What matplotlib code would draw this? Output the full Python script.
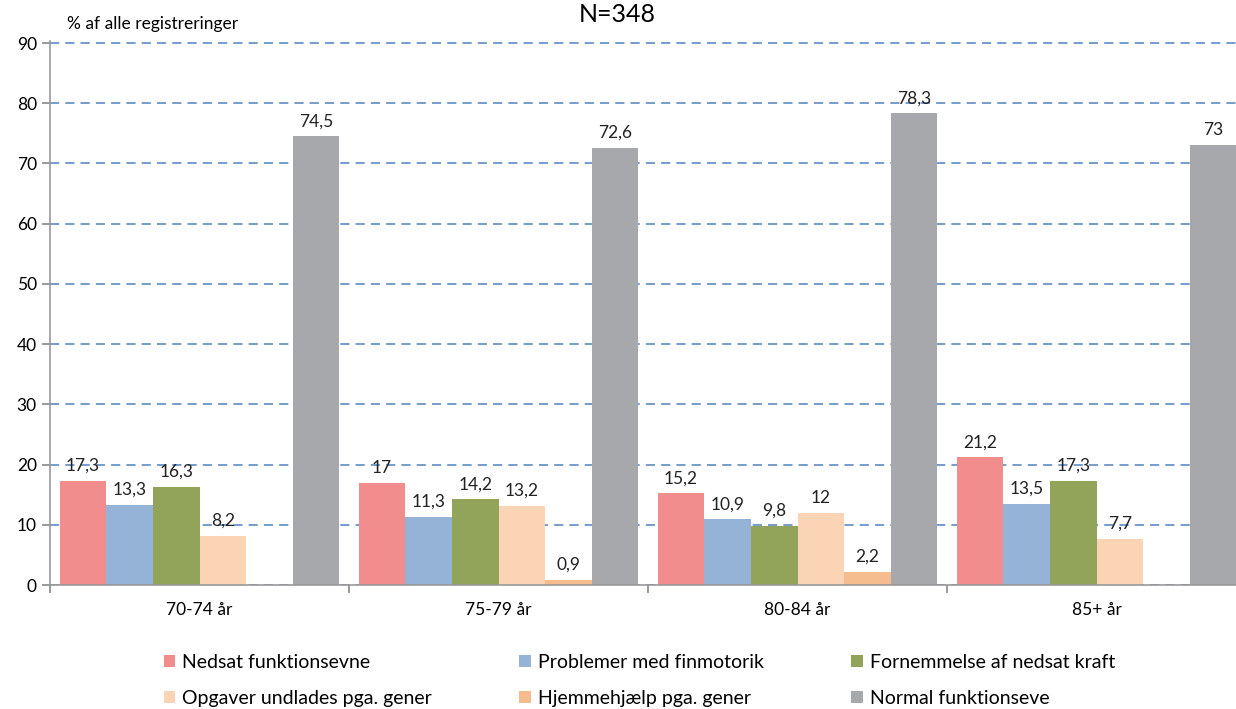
"""
Funktionsevne fordelt paa aldersgrupper, grupperet soejlediagram.
"""
import numpy as np
import matplotlib.pyplot as plt

age_groups = ["70-74 år", "75-79 år", "80-84 år", "85+ år"]
series_names = [
    "Nedsat funktionsevne",
    "Problemer med finmotorik",
    "Fornemmelse af nedsat kraft",
    "Opgaver undlades pga. gener",
    "Hjemmehjælp pga. gener",
    "Normal funktionseve",
]
nedsat = [17.3, 17, 15.2, 21.2]
finmotorik = [13.3, 11.3, 10.9, 13.5]
kraft = [16.3, 14.2, 9.8, 17.3]
undlades = [8.2, 13.2, 12, 7.7]
hjemmehjaelp = [np.nan, 0.9, 2.2, np.nan]
normal = [74.5, 72.6, 78.3, 73]

colors = ["#F28D8D", "#95B3D7", "#91A45A", "#FAD4B4", "#F5BC8E", "#A7A8AC"]


def fmt(v):
    # dansk decimalkomma
    if float(v).is_integer():
        return str(int(v))
    return ("%.1f" % v).replace(".", ",")


def main():
    plt.rcParams['font.family'] = ['Lato', 'DejaVu Sans']
    fig = plt.figure(figsize=(12.36, 7.09), dpi=100)
    ymax = 90.3
    ax = fig.add_axes([50 / 1236, 124 / 709, 1196 / 1236, 542 * ymax / 90 / 709])

    all_series = [nedsat, finmotorik, kraft, undlades, hjemmehjaelp, normal]
    n = len(all_series)
    x = np.arange(len(age_groups))
    width = 0.935 / n

    handles = []
    for i, (vals, name, col) in enumerate(zip(all_series, series_names, colors)):
        pos = x - 0.935 / 2 + width * (i + 0.5)
        bars = ax.bar(pos, vals, width, color=col, label=name, zorder=2)
        handles.append(bars)
        for p, v in zip(pos, vals):
            if np.isnan(v):
                continue
            ax.annotate(fmt(v), (p, v), xytext=(0, 5), textcoords="offset points",
                        ha="center", va="bottom", fontsize=12.5, color="#222222",
                        zorder=3)

    ax.set_xlim(-0.5, 3.5)
    ax.set_ylim(0, ymax)
    ax.set_yticks(range(0, 91, 10))
    ax.yaxis.grid(True, linestyle=(0, (6, 4)), color="#4F81BD", linewidth=1.1, zorder=1)
    ax.set_axisbelow(True)

    # kategorietiketter midt i grupperne, tick-streger ved graenserne
    ax.set_xticks(np.arange(-0.5, 3.6, 1.0))
    ax.set_xticklabels([])
    ax.set_xticks(x, minor=True)
    ax.set_xticklabels(age_groups, minor=True, fontsize=12.5)
    ax.tick_params(axis="x", which="minor", length=0, pad=12)
    ax.tick_params(axis="x", which="major", length=6, color="#888888", width=1.2)
    ax.tick_params(axis="y", length=6, color="#888888", width=1.2, labelsize=12.5)

    for s in ["top", "right"]:
        ax.spines[s].set_visible(False)
    ax.spines["left"].set_color("#999999")
    ax.spines["bottom"].set_color("#999999")
    ax.spines["left"].set_linewidth(1.2)
    ax.spines["bottom"].set_linewidth(1.2)

    fig.text(67 / 1236, 1 - 24 / 709, "% af alle registreringer", fontsize=12.5,
             ha="left", va="center")
    fig.text(617 / 1236, 1 - 15 / 709, "N=348", fontsize=18, ha="center", va="center")

    # legend udfyldes raekkevis: 3 pr. raekke
    order = [0, 3, 1, 4, 2, 5]
    ax.legend([handles[k] for k in order], [series_names[k] for k in order],
              loc="upper left", bbox_to_anchor=(96 / 1196, -0.094), ncol=3,
              frameon=False, fontsize=14, handlelength=0.6, handleheight=0.6,
              handletextpad=0.35, columnspacing=4.5, labelspacing=1.0)

    fig.savefig("out.png", dpi=100)


if __name__ == "__main__":
    main()
